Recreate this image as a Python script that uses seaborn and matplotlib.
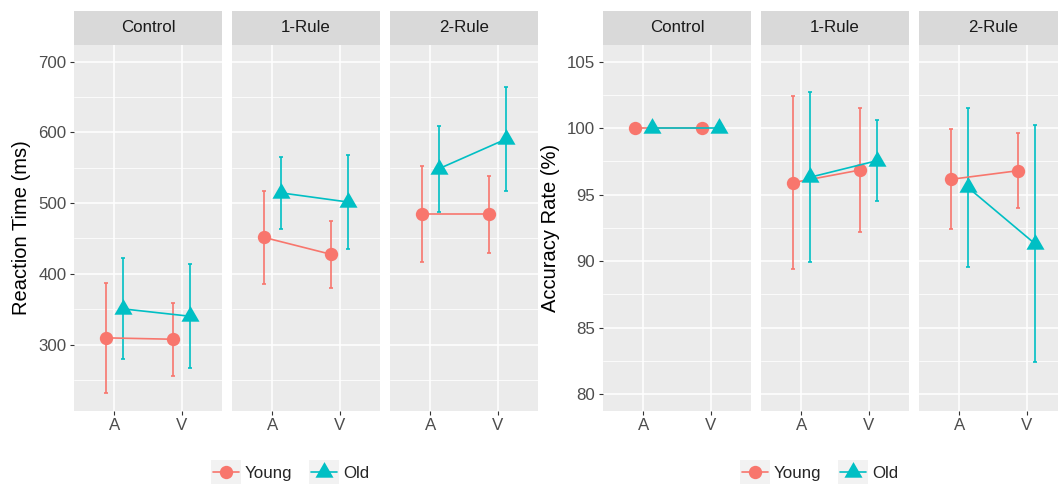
import pandas as pd
import seaborn as sns
import matplotlib.pyplot as plt
from matplotlib.path import Path
from matplotlib.lines import Line2D
from matplotlib.patches import Rectangle

# === Data ===
facets = ['Control', '1-Rule', '2-Rule']
conds = ['A', 'V']
groups = ['Young', 'Old']

# reaction time (ms): mean and error-bar half width, per facet [A, V]
rt_young = [[309.5, 307.5], [451.5, 427.5], [484.5, 484.5]]
rt_young_err = [[77.5, 51.5], [65.5, 47.5], [67.5, 54.5]]
rt_old = [[350.5, 340.0], [514.5, 501.5], [548.5, 590.5]]
rt_old_err = [[71.5, 73.5], [50.5, 66.0], [60.5, 73.5]]

# accuracy rate (%)
acc_young = [[100.0, 100.0], [95.9, 96.85], [96.15, 96.8]]
acc_young_err = [[0.0, 0.0], [6.5, 4.65], [3.75, 2.8]]
acc_old = [[100.0, 100.0], [96.3, 97.55], [95.55, 91.3]]
acc_old_err = [[0.0, 0.0], [6.4, 3.05], [6.0, 8.9]]

rows = []
for fi, facet in enumerate(facets):
    for ci, cond in enumerate(conds):
        rows.append(dict(facet=facet, cond=ci, group='Young',
                         rt=rt_young[fi][ci], rt_err=rt_young_err[fi][ci],
                         acc=acc_young[fi][ci], acc_err=acc_young_err[fi][ci]))
        rows.append(dict(facet=facet, cond=ci, group='Old',
                         rt=rt_old[fi][ci], rt_err=rt_old_err[fi][ci],
                         acc=acc_old[fi][ci], acc_err=acc_old_err[fi][ci]))
df = pd.DataFrame(rows)

# === Style ===
colors = {'Young': '#F8766D', 'Old': '#00BFC4'}
dodge = {'Young': -0.125, 'Old': 0.125}
tri = Path([(0, 1), (-0.866, -0.5), (0.866, -0.5), (0, 1)], closed=True)
markers = {'Young': 'o', 'Old': tri}
msizes = {'Young': 9.6, 'Old': 15}
df['pos'] = df['cond'] + df['group'].map(dodge)

sns.set_theme(style='darkgrid', rc={'axes.facecolor': '#EBEBEB', 'grid.color': 'white'})
plt.rcParams['font.family'] = ['Liberation Sans', 'DejaVu Sans']

W, H = 1058, 484
panel_top, panel_bot, strip_top = 45, 410.7, 11
fig = plt.figure(figsize=(W / 100, H / 100), dpi=100)


def make_block(x0s, width, val, err, ylim, major, minor, ylabel, legend_cx):
    for i, facet in enumerate(facets):
        left = x0s[i] / W
        ax = fig.add_axes([left, (H - panel_bot) / H, width / W, (panel_bot - panel_top) / H])
        sax = fig.add_axes([left, (H - panel_top) / H, width / W, (panel_top - strip_top) / H])
        sax.set_facecolor('#D9D9D9')
        sax.set_xticks([])
        sax.set_yticks([])
        for s in sax.spines.values():
            s.set_visible(False)
        sax.text(0.5, 0.5, facet, ha='center', va='center', fontsize=12.2, color='#1A1A1A',
                 transform=sax.transAxes)

        sub = df[df['facet'] == facet]
        for g in groups:
            sg = sub[sub['group'] == g]
            ax.errorbar(sg['pos'], sg[val], yerr=sg[err], fmt='none', ecolor=colors[g],
                        elinewidth=1.2, capsize=1.3, capthick=1.2, zorder=2)
            sns.lineplot(data=sg, x='pos', y=val, color=colors[g], marker=markers[g],
                         markersize=msizes[g], markeredgewidth=0, linewidth=1.2,
                         errorbar=None, ax=ax, zorder=3)

        ax.set_xlim(-0.6, 1.6)
        ax.set_ylim(*ylim)
        ax.set_xticks([0, 1])
        ax.set_xticklabels(conds)
        ax.set_yticks(major)
        ax.set_yticks(minor, minor=True)
        ax.grid(which='major', color='white', lw=1.1)
        ax.grid(which='minor', color='white', lw=0.55)
        ax.set_axisbelow(True)
        for s in ax.spines.values():
            s.set_visible(False)
        ax.tick_params(axis='both', which='major', length=3, width=0.8, color='#333333',
                       labelsize=12.2, labelcolor='#4D4D4D', pad=2.5, bottom=True, left=True)
        ax.tick_params(which='minor', length=0)
        ax.set_xlabel('')
        if i == 0:
            ax.set_ylabel(ylabel, fontsize=14.5, color='black', labelpad=5)
        else:
            ax.set_ylabel('')
            ax.tick_params(axis='y', which='both', left=False, labelleft=False)

    handles = [Line2D([0], [0], color=colors[g], marker=markers[g], markersize=msizes[g],
                      markeredgewidth=0, lw=1.2) for g in groups]
    leg = fig.legend(handles, groups, loc='center', bbox_to_anchor=(legend_cx / W, (H - 473.5) / H),
                     ncol=2, frameon=False, fontsize=12.2, handlelength=1.55,
                     handletextpad=0.35, columnspacing=1.1)
    return leg


legs = [
    make_block([74, 232, 390], 148, 'rt', 'rt_err', (206.5, 723.5),
               [300, 400, 500, 600, 700], [250, 350, 450, 550, 650],
               'Reaction Time (ms)', 291),
    make_block([603, 761, 919], 148, 'acc', 'acc_err', (78.75, 106.25),
               [80, 85, 90, 95, 100, 105], [82.5, 87.5, 92.5, 97.5, 102.5],
               'Accuracy Rate (%)', 820),
]

# light grey key backgrounds like ggplot legend keys
fig.canvas.draw()
renderer = fig.canvas.get_renderer()
for leg in legs:
    for h in leg.legend_handles:
        bb = h.get_window_extent(renderer)
        cx, cy = (bb.x0 + bb.x1) / 2, (bb.y0 + bb.y1) / 2
        fig.patches.append(Rectangle(((cx - 15) / W, (cy - 12.5) / H), 30 / W, 25 / H,
                                     transform=fig.transFigure, facecolor='#F2F2F2',
                                     edgecolor='none', zorder=1))

fig.savefig('out.png', dpi=100)
